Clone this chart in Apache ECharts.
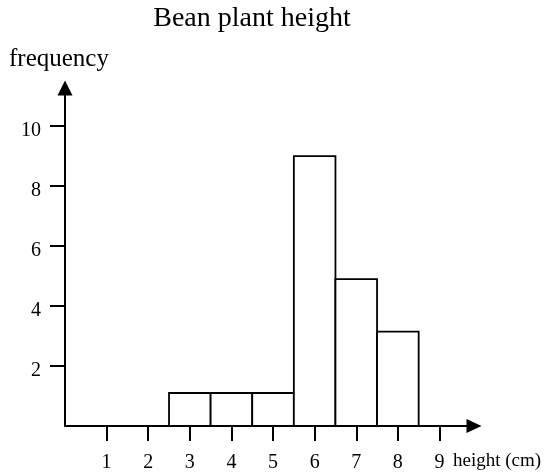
<!DOCTYPE html>
<html>
<head>
<meta charset="utf-8">
<script src="https://cdn.jsdelivr.net/npm/echarts@6/dist/echarts.min.js"></script>
<style>html,body{margin:0;padding:0;background:#fff;}#c{width:546px;height:474px;}</style>
</head>
<body>
<div id="c"></div>
<script>
const heights = [3, 4, 5, 6, 7, 8];
const frequencies = [1.1, 1.1, 1.1, 9, 4.9, 3.15];
const xTicks = [1, 2, 3, 4, 5, 6, 7, 8, 9];
const yTicks = [2, 4, 6, 8, 10];
const titleText = 'Bean plant height';
const xName = 'height (cm)';
const yName = 'frequency';

const FONT = "'Liberation Serif', 'Times New Roman', serif";
const chart = echarts.init(document.getElementById('c'));
chart.setOption({
  animation: false,
  backgroundColor: '#fff',
  title: {
    text: titleText,
    left: 247,
    top: 0,
    textAlign: 'center',
    textStyle: { fontFamily: FONT, fontSize: 28, fontWeight: 'normal', color: '#000' }
  },
  grid: { left: 65, right: 72, top: 88, bottom: 48, containLabel: false },
  graphic: [{
    type: 'text',
    left: 453,
    top: 452,
    silent: true,
    style: { text: xName, fontFamily: FONT, fontSize: 19, fill: '#000' }
  }],
  xAxis: {
    type: 'value',
    min: 0,
    max: 9.83,
    splitLine: { show: false },
    axisLine: { show: true, lineStyle: { color: '#000', width: 2 }, symbol: ['none', 'triangle'], symbolSize: [14, 15] },
    axisTick: { show: true, inside: false, length: 15, lineStyle: { color: '#000', width: 2 }, customValues: xTicks },
    axisLabel: { show: true, margin: 27, fontFamily: FONT, fontSize: 20, color: '#000', customValues: xTicks }
  },
  yAxis: {
    type: 'value',
    min: 0,
    max: 11.27,
    name: yName,
    nameLocation: 'end',
    nameGap: 29,
    nameTextStyle: { fontFamily: FONT, fontSize: 25, color: '#000', align: 'center', verticalAlign: 'middle', padding: [0, 12, 0, 0] },
    splitLine: { show: false },
    axisLine: { show: true, lineStyle: { color: '#000', width: 2 }, symbol: ['none', 'triangle'], symbolSize: [15, 15] },
    axisTick: { show: true, inside: false, length: 15, lineStyle: { color: '#000', width: 2 }, customValues: yTicks },
    axisLabel: { show: true, margin: 24, fontFamily: FONT, fontSize: 20, color: '#000', verticalAlign: 'top', lineHeight: 10, customValues: yTicks }
  },
  series: [{
    type: 'custom',
    data: heights.map((h, i) => [h, frequencies[i]]),
    encode: { x: 0, y: 1 },
    renderItem: function (params, api) {
      const x = api.value(0), y = api.value(1);
      const p1 = api.coord([x - 0.5, y]);
      const p2 = api.coord([x + 0.5, 0]);
      return {
        type: 'rect',
        shape: { x: p1[0], y: p1[1], width: p2[0] - p1[0], height: p2[1] - p1[1] },
        style: { fill: '#fff', stroke: '#000', lineWidth: 1.8 }
      };
    }
  }]
});
</script>
</body>
</html>
